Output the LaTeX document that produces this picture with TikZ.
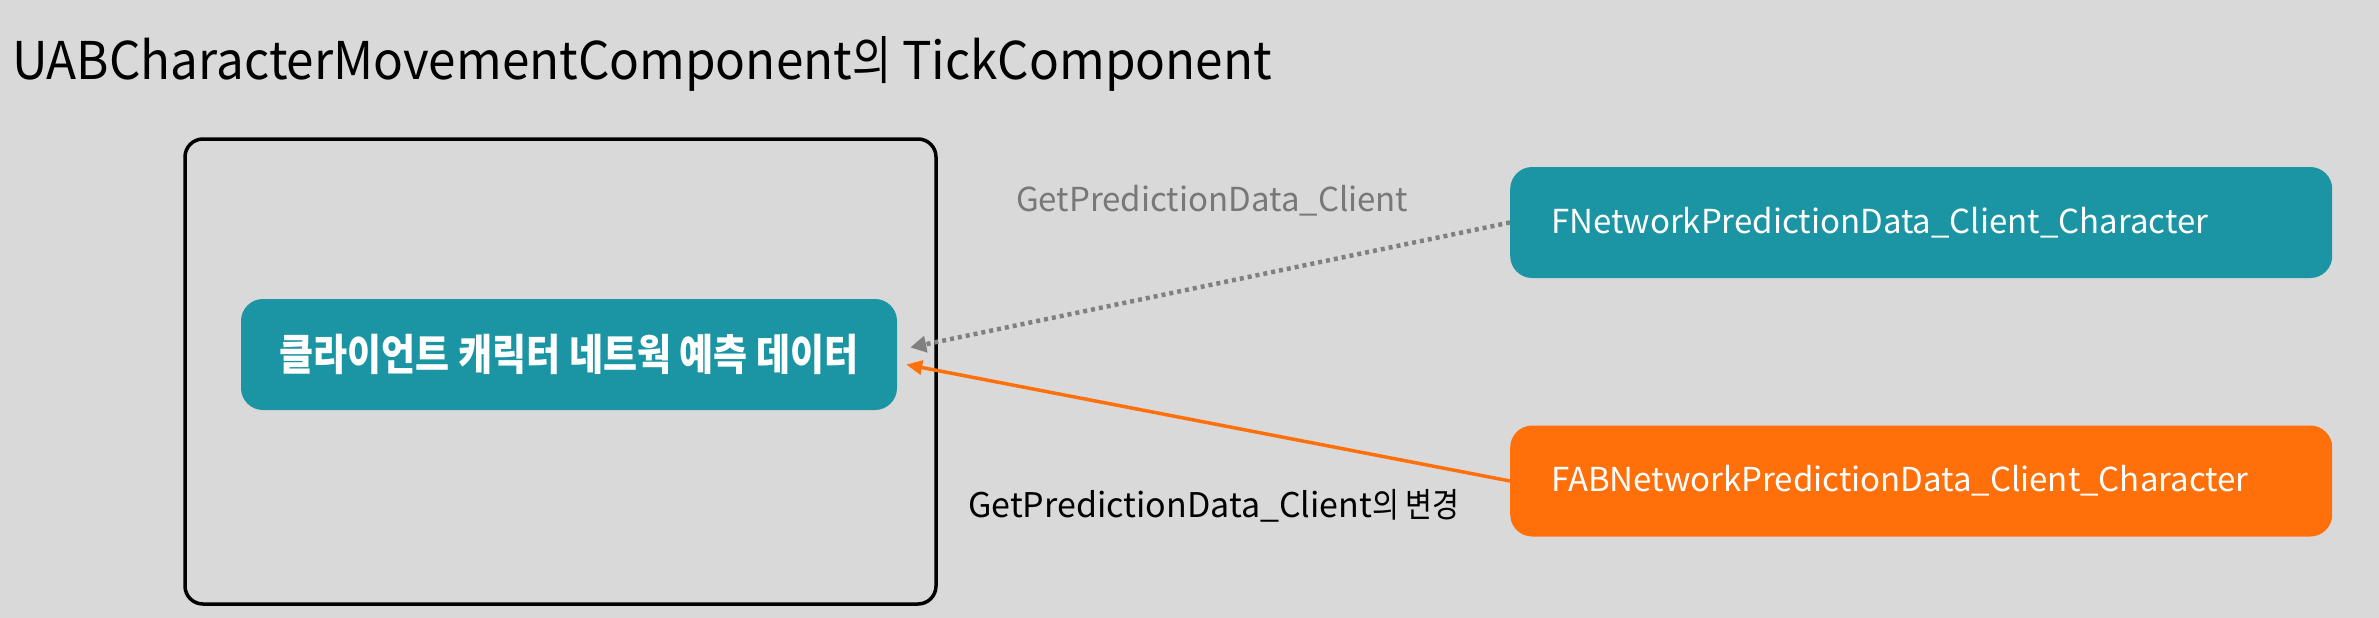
\documentclass[tikz,border=0pt]{standalone}
\usepackage{fontspec}
\setmainfont{Noto Sans CJK KR}
\usetikzlibrary{arrows.meta,calc}
\definecolor{bg}{RGB}{217,217,217}
\definecolor{teal}{RGB}{27,149,163}
\definecolor{orng}{RGB}{255,111,10}
\definecolor{arrgray}{RGB}{128,128,128}
\definecolor{lblgray}{RGB}{120,120,120}
\newcommand{\kxs}[1]{\scalebox{0.86}[1]{#1}}
\tikzset{
  box/.style={rounded corners=22pt, inner sep=0pt, text=white},
  rbox/.style={box, minimum width=822pt, minimum height=111pt, anchor=west, text width=740pt, align=left, font=\fontsize{33}{40}\selectfont},
  lbl/.style={inner sep=0pt, anchor=base west},
}
\begin{document}
\begin{tikzpicture}[x=1pt,y=-1pt]
\useasboundingbox (0,0) rectangle (2379,618);
\fill[bg] (0,0) rectangle (2379,618);
% title
\node[lbl, font=\fontsize{52}{60}\selectfont] (title) at (12,79) {\scalebox{0.95}[1]{UABCharacterMovementComponent\kxs{의} TickComponent}};
% outer frame
\draw[line width=3.5pt, rounded corners=18pt] (185,139) rectangle (936,604);
% inner box
\node[box, fill=teal, minimum width=656pt, minimum height=111pt, font=\fontsize{43}{50}\selectfont\bfseries] (inner) at (569,354.5) {\kxs{클라이언트 캐릭터 네트웍 예측 데이터}};
% right boxes
\node[rbox, fill=teal] (fnet) at (1510,222.5) {FNetworkPredictionData\_Client\_Character};
\node[rbox, fill=orng] (fab) at (1510,481) {FABNetworkPredictionData\_Client\_Character};
% labels
\node[lbl, text=lblgray, font=\fontsize{33}{40}\selectfont] (l1) at (1016,211) {GetPredictionData\_Client};
\node[lbl, text=black, font=\fontsize{34}{40}\selectfont] (l2) at (968,517) {GetPredictionData\_Client\kxs{의 변경}};
% arrows
\draw[arrgray, line width=4.5pt, dash pattern=on 4pt off 4pt, -{Triangle[length=16pt,width=16pt]}] (fnet.west) -- ($(inner.east)+(13,-7)$);
\draw[orng, line width=3.5pt, -{Triangle[length=16pt,width=14pt]}] (fab.west) -- ($(inner.east)+(9,10)$);
\end{tikzpicture}
\end{document}
